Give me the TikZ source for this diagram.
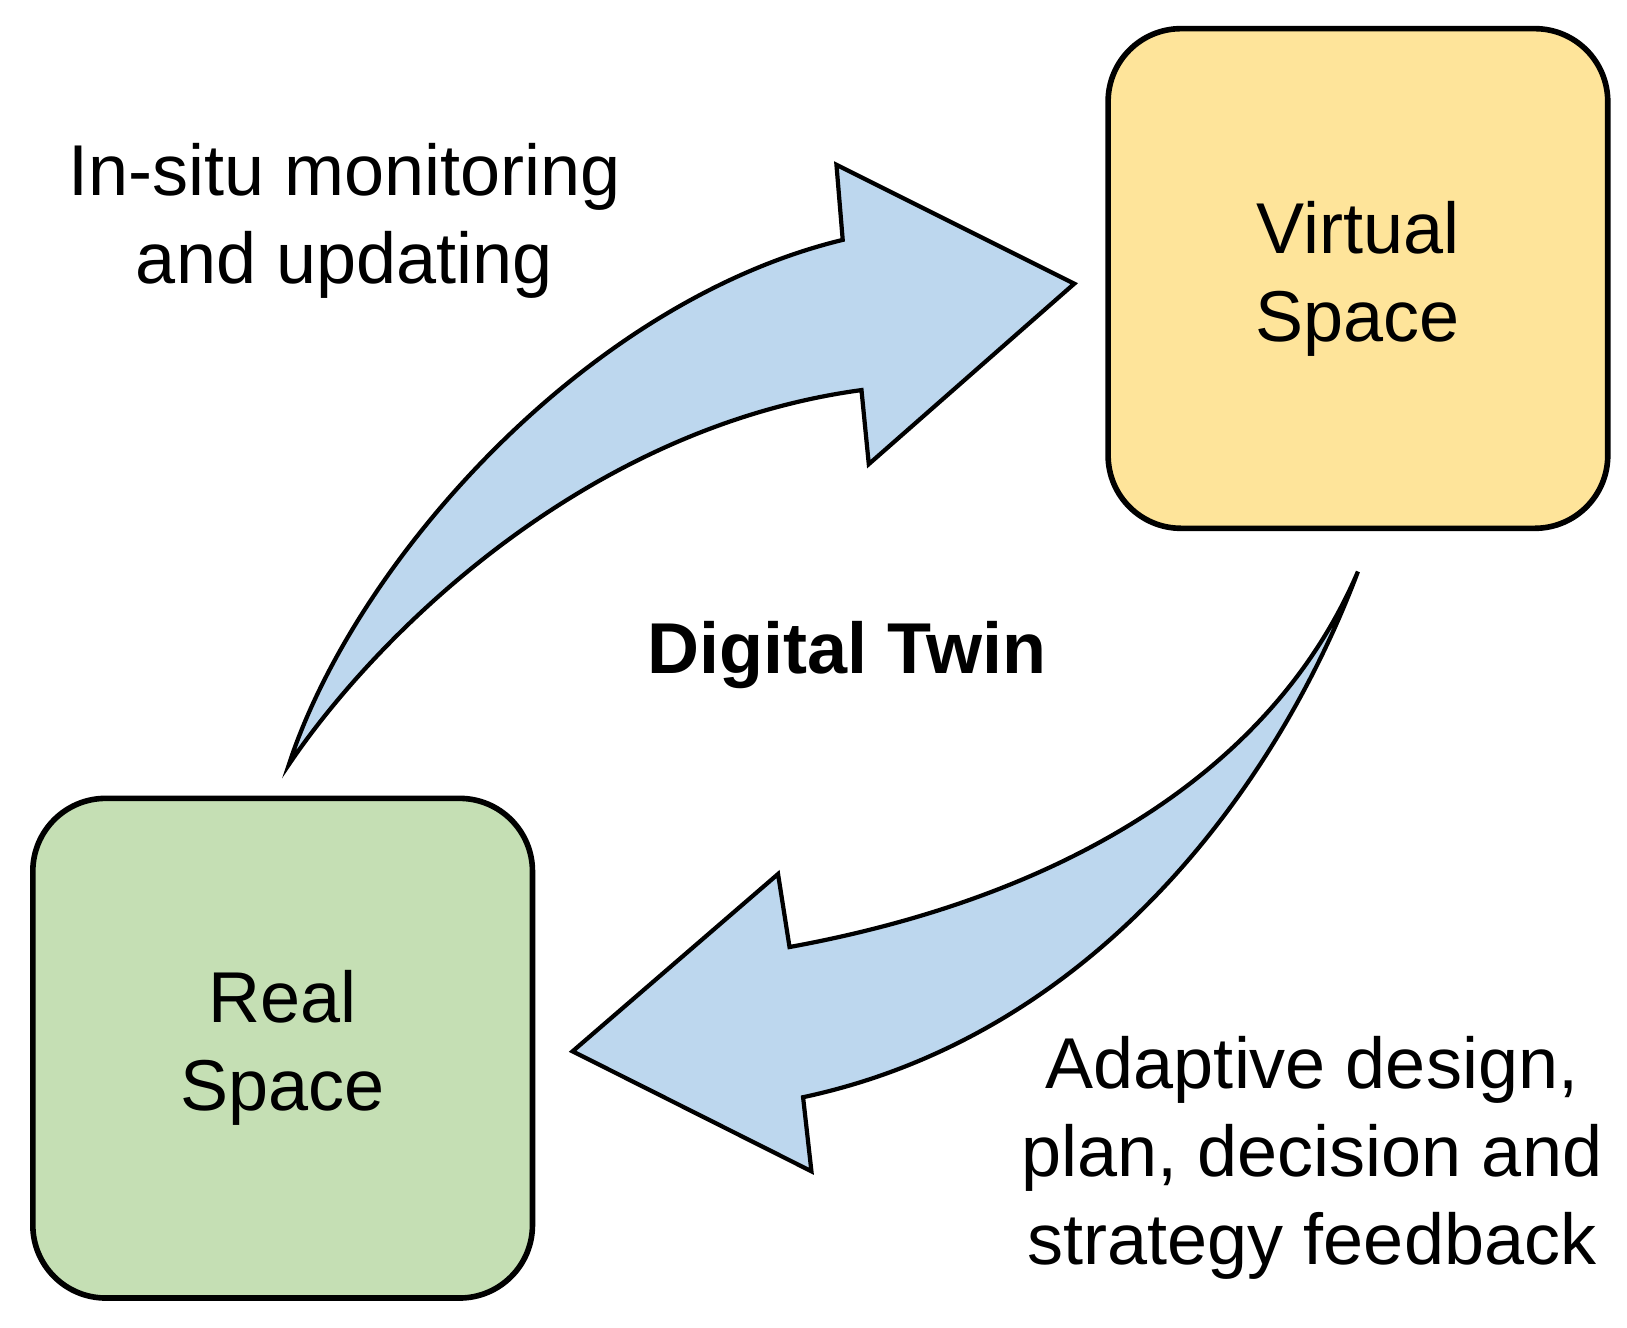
\documentclass[tikz,border=0pt]{standalone}
\usepackage{fontspec}
\setmainfont{Liberation Sans}
\definecolor{boxgreen}{HTML}{C5DFB4}
\definecolor{boxyellow}{HTML}{FEE49A}
\definecolor{arrowblue}{HTML}{BDD7EE}
\tikzset{
  space/.style={draw, line width=1.6pt, rounded corners=0.73cm, minimum width=5.0cm, minimum height=5.0cm, align=center, font=\fontsize{20.5}{25}\selectfont},
  label/.style={align=center, font=\fontsize{20.5}{25}\selectfont},
  bigarrow/.style={draw, line width=1.2pt, fill=arrowblue, line join=miter}
}
\begin{document}
\begin{tikzpicture}[x=0.01043cm, y=-0.01043cm]
\useasboundingbox (0,0) rectangle (1560,1273);

% the two spaces
\node[space, fill=boxyellow] (virtual) at (1302,267) {Virtual\\Space};
\node[space, fill=boxgreen] (real) at (271,1005) {Real\\Space};

% curved arrows
\draw[bigarrow] (277,733) .. controls (340,540) and (560,290) .. (808,230)
  -- (802,158) -- (1030,272) -- (833,445) -- (826,374)
  .. controls (560,410) and (360,610) .. cycle;
\draw[bigarrow] (1302,548) .. controls (1230,740) and (1060,990) .. (770,1052)
  -- (778,1123) -- (549,1008) -- (746,838) -- (757,908)
  .. controls (1020,860) and (1220,740) .. cycle;

% labels
\node[label] (monitor) at (330,212) {In-situ monitoring\\and updating};
\node[label] (feedback) at (1258,1110) {Adaptive design,\\plan, decision and\\strategy feedback};
\node[label, font=\fontsize{20.5}{25}\selectfont\bfseries] (twin) at (812,628) {Digital Twin};
\end{tikzpicture}
\end{document}
